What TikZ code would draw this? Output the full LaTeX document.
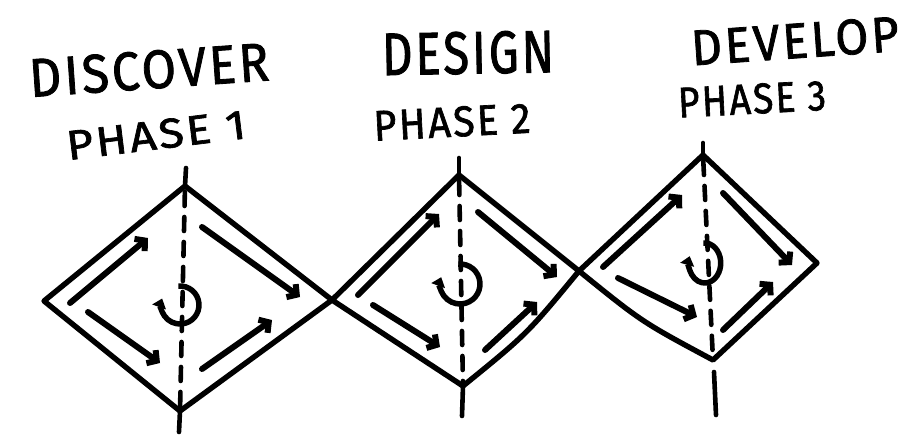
\documentclass[tikz,border=0pt]{standalone}
\usepackage{fontspec}
\newfontfamily\hand{Fira Sans}[LetterSpace=6, FakeBold=1.6]
\usetikzlibrary{arrows.meta}
\newcommand{\htxt}[3]{\resizebox{#1pt}{#2pt}{\hand #3}}
\tikzset{
  edge/.style={line width=5.4pt, line join=round, line cap=round},
  axisline/.style={line width=4.6pt, dash pattern=on 14pt off 11pt, line cap=round},
  tickline/.style={line width=4.6pt, line cap=round},
  flow/.style={line width=6pt, line cap=round, -{Straight Barb[length=7pt,width=16pt]}},
  cyc/.style={line width=5.5pt, -{Triangle[length=9pt,width=14pt]}},
  lbl/.style={inner sep=0pt, anchor=center}
}
\begin{document}
\begin{tikzpicture}[x=1pt,y=-1pt]
\useasboundingbox (0,0) rectangle (905,436);

% vertices
\coordinate (T1) at (185,186); \coordinate (L1) at (44,301);
\coordinate (R1) at (332,300); \coordinate (B1) at (180,411);
\coordinate (T2) at (459,175); \coordinate (R2) at (579,271);
\coordinate (B2) at (463,386);
\coordinate (T3) at (703,155); \coordinate (R3) at (817,263);
\coordinate (B3) at (713,360);

% diamonds
\draw[edge] (T1) -- (R1) -- (B1) -- (L1) -- cycle;
\draw[edge] (T2) -- (R2) .. controls (527,334) .. (B2) -- (R1) -- cycle;
\draw[edge] (T3) -- (R3) -- (B3) .. controls (642,322) .. (R2) -- cycle;

% dashed axes
\draw[axisline, dash phase=-6pt] (T1) -- (B1);
\draw[axisline, dash phase=-6pt] (T2) -- (B2);
\draw[axisline, dash phase=-6pt] (T3) -- (B3);

% ticks
\coordinate (t1a) at (186,168); \coordinate (t1b) at (179,432);
\coordinate (t2a) at (459,158); \coordinate (t2b) at (462,416);
\coordinate (t3a) at (703,143); \coordinate (t3c) at (714,372); \coordinate (t3b) at (716,415);
\draw[tickline] (t1a) -- (T1);
\draw[tickline] (B1) -- (t1b);
\draw[tickline] (t2a) -- (T2);
\draw[tickline] (B2) -- (t2b);
\draw[tickline] (t3a) -- (T3);
\draw[tickline] (t3c) -- (t3b);

% flow arrows diamond 1
\coordinate (a1s) at (70,303);  \coordinate (a1e) at (148,238);
\coordinate (b1s) at (202,227); \coordinate (b1e) at (300,297);
\coordinate (c1s) at (88,312);  \coordinate (c1e) at (160,363);
\coordinate (d1s) at (202,369); \coordinate (d1e) at (272,320);
\draw[flow] (a1s) -- (a1e);
\draw[flow] (b1s) -- (b1e);
\draw[flow] (c1s) -- (c1e);
\draw[flow] (d1s) -- (d1e);
% diamond 2
\coordinate (a2s) at (358,295); \coordinate (a2e) at (439,214);
\coordinate (b2s) at (478,212); \coordinate (b2e) at (557,277);
\coordinate (c2s) at (373,305); \coordinate (c2e) at (440,347);
\coordinate (d2s) at (485,350); \coordinate (d2e) at (537,302);
\draw[flow] (a2s) -- (a2e);
\draw[flow] (b2s) -- (b2e);
\draw[flow] (c2s) -- (c2e);
\draw[flow] (d2s) -- (d2e);
% diamond 3
\coordinate (a3s) at (603,267); \coordinate (a3e) at (682,195);
\coordinate (b3s) at (723,193); \coordinate (b3e) at (792,265);
\coordinate (c3s) at (618,278); \coordinate (c3e) at (697,317);
\coordinate (d3s) at (723,330); \coordinate (d3e) at (773,282);
\draw[flow] (a3s) -- (a3e);
\draw[flow] (b3s) -- (b3e);
\draw[flow] (c3s) -- (c3e);
\draw[flow] (d3s) -- (d3e);

% cycle symbols
\begin{scope}[shift={(180,305)}, y=1pt]
  \draw[cyc] (95:19) arc[start angle=95, end angle=-200, radius=19];
\end{scope}
\begin{scope}[shift={(460,284)}, y=1pt]
  \draw[cyc] (95:20) arc[start angle=95, end angle=-200, radius=20];
\end{scope}
\begin{scope}[shift={(705,262)}, y=1pt]
  \draw[cyc] (95:19) arc[start angle=95, end angle=-200, x radius=16, y radius=20];
\end{scope}

% labels
\node[lbl, rotate=4] (disc) at (149,70) {\htxt{240}{38}{DISCOVER}};
\node[lbl, rotate=7] (ph1) at (156,135) {\htxt{180}{29}{PHASE 1}};
\node[lbl, rotate=1] (desi) at (468,53) {\htxt{172}{42}{DESIGN}};
\node[lbl, rotate=3] (ph2) at (452,122) {\htxt{157}{30}{PHASE 2}};
\node[lbl, rotate=4] (deve) at (795,41) {\htxt{208}{35}{DEVELOP}};
\node[lbl, rotate=3] (ph3) at (752,99) {\htxt{148}{30}{PHASE 3}};
\end{tikzpicture}
\end{document}
